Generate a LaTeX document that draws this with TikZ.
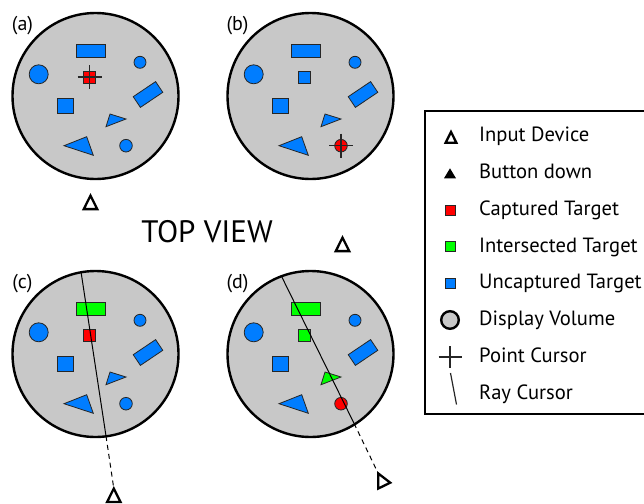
\documentclass[tikz,border=0pt]{standalone}
\usepackage{fontspec}
\setmainfont{PT Sans}
\definecolor{tblue}{RGB}{0,125,255}
\definecolor{tred}{RGB}{255,0,0}
\definecolor{tgreen}{RGB}{0,255,0}
\definecolor{volgray}{RGB}{200,200,200}

\begin{document}
\begin{tikzpicture}[x=1pt,y=-1pt,
  volume/.style={draw,line width=2.4pt,fill=volgray},
  target/.style={draw=black!85,line width=0.8pt},
  cursor/.style={black!85,line width=1.2pt},
  ray/.style={line width=1pt},
  devline/.style={draw,line width=2.3pt,fill=white,line join=miter},
  device/.pic={\draw[devline] (0,0) -- (-6.7,13.5) -- (6.7,13.5) -- cycle;},
  panellab/.style={inner sep=0pt,font=\fontsize{20}{22}\selectfont},
  legtext/.style={anchor=base west,inner sep=0pt,font=\fontsize{20.6}{22}\selectfont}]
\useasboundingbox (0,0) rectangle (644,503);
% four top views of the same volume; only the target colours change
\foreach \cx/\cy/\lab/\crect/\csq/\ctri/\ccirc in
  {95.5/96/a/tblue/tred/tblue/tblue, 310.5/96/b/tblue/tblue/tblue/tred,
   95.5/354/c/tgreen/tred/tblue/tblue, 310.5/354/d/tgreen/tgreen/tgreen/tred}{
\begin{scope}[shift={(\cx,\cy)}]
\draw[volume] (0,0) circle (83);
\node[panellab] (lab-\lab) at (-73,-70) {(\lab)};
\draw[target,fill=\crect] (-19.3,-51.7) rectangle (9.7,-38.7);
\draw[target,fill=tblue] (-56.8,-21.7) circle (9.5);
\draw[target,fill=tblue] (44.5,-33.7) circle (6);
\draw[target,fill=\csq] (-11.8,-25) rectangle (0.2,-13);
\draw[target,fill=tblue] (-37.8,2.3) rectangle (-21.8,17.3);
\draw[target,fill=tblue] (67.3,-3.7) -- (60.1,-14.4) -- (37.7,0.7) -- (44.9,11.4) -- cycle;
\draw[target,fill=\ctri] (10.5,30.7) -- (14.5,18) -- (30.5,23) -- cycle;
\draw[target,fill=tblue] (-31.5,49.7) -- (-8.8,40.7) -- (-2.2,59.3) -- cycle;
\draw[target,fill=\ccirc] (30.5,49.7) circle (6.3);
\end{scope}}
% point cursors of (a) and (b)
\coordinate (pta) at (89.7,77);
\coordinate (ptb) at (341,145.7);
\foreach \p in {pta,ptb}
  \draw[cursor] (\p) ++(-12,0) -- ++(24,0) (\p) ++(0,-12) -- ++(0,24);
% input devices of (a) and (b) sit outside the volume
\coordinate (dev-a) at (90.5,195.6);
\coordinate (dev-b) at (342.5,237.6);
\pic at (dev-a) {device};
\pic at (dev-b) {device};
% ray cursors: solid inside the volume, dashed down to the device
\coordinate (rayc-top) at (81,271.7);
\coordinate (rayc-out) at (106,436);
\coordinate (dev-c) at (113.8,488.5);
\coordinate (rayd-top) at (281.7,276.7);
\coordinate (rayd-out) at (354,423.3);
\coordinate (dev-d) at (378.3,473.5);
\draw[ray] (rayc-top) -- (rayc-out);
\draw[ray,dash pattern=on 5pt off 4pt] (rayc-out) -- (dev-c);
\draw[ray] (rayd-top) -- (rayd-out);
\draw[ray,dash pattern=on 5pt off 4pt] (rayd-out) -- (dev-d);
\pic at (dev-c) {device};
\pic[rotate=26] at (dev-d) {device};
\node[inner sep=0pt,font=\fontsize{31}{33}\selectfont] (topview) at (207,232) {TOP VIEW};
% legend, open on the right
\draw[line width=2pt,fill=white] (425,111) rectangle (650,414);
\foreach \t [count=\i] in {Input Device,Button down,Captured Target,Intersected Target,
    Uncaptured Target,Display Volume,Point Cursor,Ray Cursor}
  \node[legtext] (leg-\i) at (479,{141.7+36.8*(\i-1)}) {\t};
\pic[scale=0.8] at (451,131.9) {device};
\fill (450,168.3) -- (444,178.3) -- (456,178.3) -- cycle;
\draw[target,fill=tred] (445,205) rectangle (455,215);
\draw[target,fill=tgreen] (445,241.7) rectangle (455,251.7);
\draw[target,fill=tblue] (445,278.3) rectangle (455,288.3);
\draw[volume] (450,320) circle (8.8);
\draw[cursor] (438.5,357) -- (461.5,357) (450,346) -- (450,368);
\draw[cursor] (450.5,373) -- (456.5,404.5);
\end{tikzpicture}
\end{document}
